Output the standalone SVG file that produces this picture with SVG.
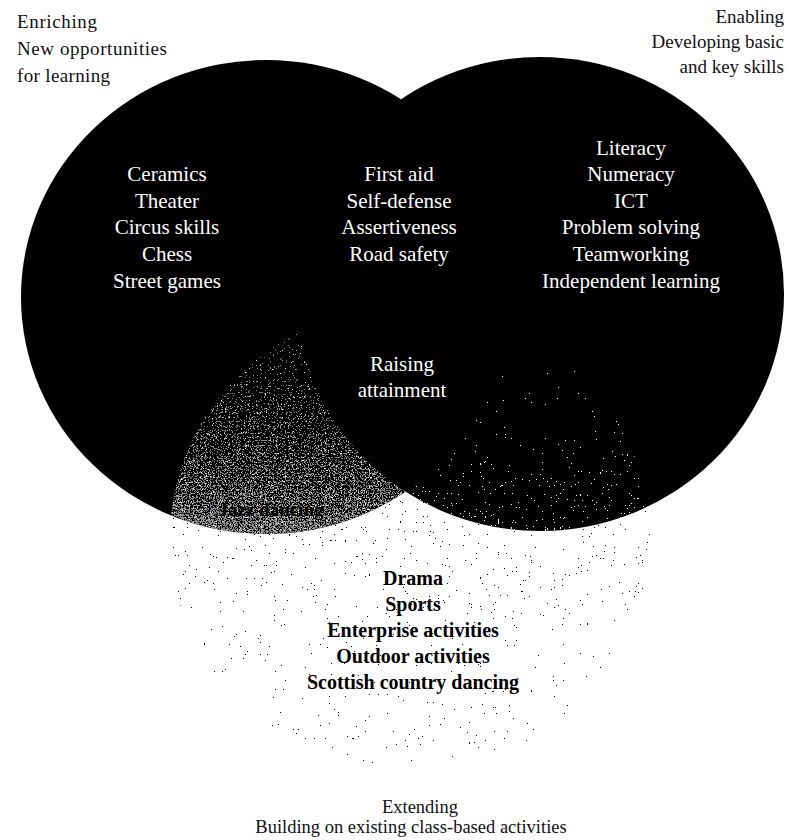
<svg xmlns="http://www.w3.org/2000/svg" width="786" height="840" viewBox="0 0 786 840">
<style>
  .lbl { font-family: "Liberation Serif", "DejaVu Serif", serif; font-size: 19px; fill: #111; }
  .lbr { font-family: "Liberation Serif", "DejaVu Serif", serif; font-size: 19px; fill: #111; text-anchor: end; }
  .lbc { font-family: "Liberation Serif", "DejaVu Serif", serif; font-size: 18.5px; fill: #111; text-anchor: middle; }
  .in { font-family: "Liberation Serif", "DejaVu Serif", serif; font-size: 21px; fill: #fff; text-anchor: middle; }
  .ext { font-family: "Liberation Serif", "DejaVu Serif", serif; font-size: 20px; font-weight: bold; fill: #000; text-anchor: middle; }
  .blob { fill: #000; }
</style>
<defs>
  <clipPath id="cL"><ellipse cx="266" cy="297" rx="245" ry="237"/></clipPath>
  <clipPath id="cR"><ellipse cx="540" cy="294" rx="244" ry="237"/></clipPath>
  <clipPath id="cT"><ellipse cx="410" cy="538" rx="240" ry="232"/></clipPath>
  <linearGradient id="gA" x1="0" y1="0" x2="0" y2="1">
    <stop offset="0" stop-color="#000" stop-opacity="1"/>
    <stop offset="0.55" stop-color="#000" stop-opacity="0.75"/>
    <stop offset="0.8" stop-color="#000" stop-opacity="0.35"/>
    <stop offset="0.95" stop-color="#000" stop-opacity="0.6"/>
    <stop offset="1" stop-color="#000" stop-opacity="0"/>
  </linearGradient>
  <linearGradient id="gUp" x1="0" y1="0" x2="0" y2="1">
    <stop offset="0" stop-color="#000" stop-opacity="0"/>
    <stop offset="1" stop-color="#000" stop-opacity="1"/>
  </linearGradient>
  <filter id="fA" filterUnits="userSpaceOnUse" x="0" y="0" width="786" height="840" color-interpolation-filters="sRGB">
    <feTurbulence type="fractalNoise" baseFrequency="0.55" numOctaves="2" seed="4" result="n"/>
    <feColorMatrix in="n" type="matrix" values="0 0 0 0 0  0 0 0 0 0  0 0 0 0 0  1 0 0 0 0" result="na"/>
    <feComposite in="na" in2="SourceAlpha" operator="arithmetic" k1="0" k2="1" k3="0.08" k4="-0.325" result="s"/>
    <feComponentTransfer in="s" result="t"><feFuncA type="discrete" tableValues="0 1"/></feComponentTransfer>
    <feFlood flood-color="#000"/>
    <feComposite in2="t" operator="in"/>
  </filter>
  <filter id="fB" filterUnits="userSpaceOnUse" x="0" y="0" width="786" height="840" color-interpolation-filters="sRGB">
    <feTurbulence type="fractalNoise" baseFrequency="0.55" numOctaves="2" seed="9" result="n"/>
    <feColorMatrix in="n" type="matrix" values="0 0 0 0 0  0 0 0 0 0  0 0 0 0 0  1 0 0 0 0" result="na"/>
    <feComposite in="na" in2="SourceAlpha" operator="arithmetic" k1="0" k2="1" k3="0.12" k4="-0.345" result="s"/>
    <feComponentTransfer in="s" result="t"><feFuncA type="discrete" tableValues="0 1"/></feComponentTransfer>
    <feFlood flood-color="#fff"/>
    <feComposite in2="t" operator="in"/>
  </filter>
  <filter id="fCg" filterUnits="userSpaceOnUse" x="0" y="0" width="786" height="840" color-interpolation-filters="sRGB">
    <feTurbulence type="fractalNoise" baseFrequency="0.75" numOctaves="2" seed="21" result="n"/>
    <feColorMatrix in="n" type="matrix" values="0 0 0 0 0  0 0 0 0 0  0 0 0 0 0  1 0 0 0 0" result="na"/>
    <feComposite in="na" in2="SourceAlpha" operator="arithmetic" k1="0" k2="1" k3="0.28" k4="-0.25" result="s"/>
    <feComponentTransfer in="s" result="t"><feFuncA type="discrete" tableValues="0 1"/></feComponentTransfer>
    <feFlood flood-color="#8a8a8a"/>
    <feComposite in2="t" operator="in"/>
  </filter>
  <filter id="fCw" filterUnits="userSpaceOnUse" x="0" y="0" width="786" height="840" color-interpolation-filters="sRGB">
    <feTurbulence type="fractalNoise" baseFrequency="0.75" numOctaves="2" seed="37" result="n"/>
    <feColorMatrix in="n" type="matrix" values="0 0 0 0 0  0 0 0 0 0  0 0 0 0 0  1 0 0 0 0" result="na"/>
    <feComposite in="na" in2="SourceAlpha" operator="arithmetic" k1="0" k2="1" k3="0.12" k4="-0.29" result="s"/>
    <feComponentTransfer in="s" result="t"><feFuncA type="discrete" tableValues="0 1"/></feComponentTransfer>
    <feFlood flood-color="#e6e6e6"/>
    <feComposite in2="t" operator="in"/>
  </filter>
</defs>

<rect x="0" y="0" width="786" height="840" fill="#fff"/>

<!-- Extending circle: sparse stipple on white -->
<g id="circle-extending">
  <rect x="170" y="306" width="480" height="464" fill="url(#gA)" filter="url(#fA)" clip-path="url(#cT)"/>
</g>

<!-- Enriching and Enabling circles -->
<g id="circle-enriching">
  <ellipse class="blob" cx="266" cy="297" rx="245" ry="237"/>
</g>
<g id="circle-enabling">
  <ellipse class="blob" cx="540" cy="294" rx="244" ry="237"/>
</g>

<!-- overlaps -->
<g id="overlap-enabling-extending" clip-path="url(#cT)">
  <rect x="400" y="306" width="250" height="226" fill="url(#gUp)" filter="url(#fB)" clip-path="url(#cR)"/>
</g>
<g id="overlap-enriching-extending" clip-path="url(#cT)">
  <g clip-path="url(#cL)">
    <rect x="160" y="320" width="260" height="215" fill="url(#gUp)" filter="url(#fCg)"/>
    <rect x="160" y="320" width="260" height="215" fill="url(#gUp)" filter="url(#fCw)"/>
    <ellipse class="blob" cx="540" cy="294" rx="244" ry="237"/>
  </g>
</g>

<!-- labels -->
<g id="label-enriching">
  <text class="lbl" x="17" y="28" textLength="80" lengthAdjust="spacing">Enriching</text>
  <text class="lbl" x="17" y="55" textLength="150" lengthAdjust="spacing">New opportunities</text>
  <text class="lbl" x="17" y="82" textLength="93" lengthAdjust="spacing">for learning</text>
</g>
<g id="label-enabling">
  <text class="lbr" x="784" y="23">Enabling</text>
  <text class="lbr" x="784" y="48">Developing basic</text>
  <text class="lbr" x="784" y="73">and key skills</text>
</g>
<g id="label-extending">
  <text class="lbc" x="420" y="813">Extending</text>
  <text class="lbc" x="411" y="833">Building on existing class-based activities</text>
</g>

<g id="items-enriching">
  <text class="in" x="167" y="181">Ceramics</text>
  <text class="in" x="167" y="208">Theater</text>
  <text class="in" x="167" y="234">Circus skills</text>
  <text class="in" x="167" y="261">Chess</text>
  <text class="in" x="167" y="288">Street games</text>
</g>
<g id="items-enriching-enabling">
  <text class="in" x="399" y="181">First aid</text>
  <text class="in" x="399" y="208">Self-defense</text>
  <text class="in" x="399" y="234">Assertiveness</text>
  <text class="in" x="399" y="261">Road safety</text>
</g>
<g id="items-enabling">
  <text class="in" x="631" y="155">Literacy</text>
  <text class="in" x="631" y="181">Numeracy</text>
  <text class="in" x="631" y="208">ICT</text>
  <text class="in" x="631" y="234">Problem solving</text>
  <text class="in" x="631" y="261">Teamworking</text>
  <text class="in" x="631" y="288">Independent learning</text>
</g>
<g id="items-center">
  <text class="in" x="402" y="371">Raising</text>
  <text class="in" x="402" y="397">attainment</text>
</g>
<g id="items-enriching-extending">
  <text class="ext" x="271" y="516" style="font-size:19px">Jazz dancing</text>
</g>
<g id="items-extending">
  <text class="ext" x="413" y="585">Drama</text>
  <text class="ext" x="413" y="611">Sports</text>
  <text class="ext" x="413" y="637">Enterprise activities</text>
  <text class="ext" x="413" y="663">Outdoor activities</text>
  <text class="ext" x="413" y="689">Scottish country dancing</text>
</g>
</svg>
